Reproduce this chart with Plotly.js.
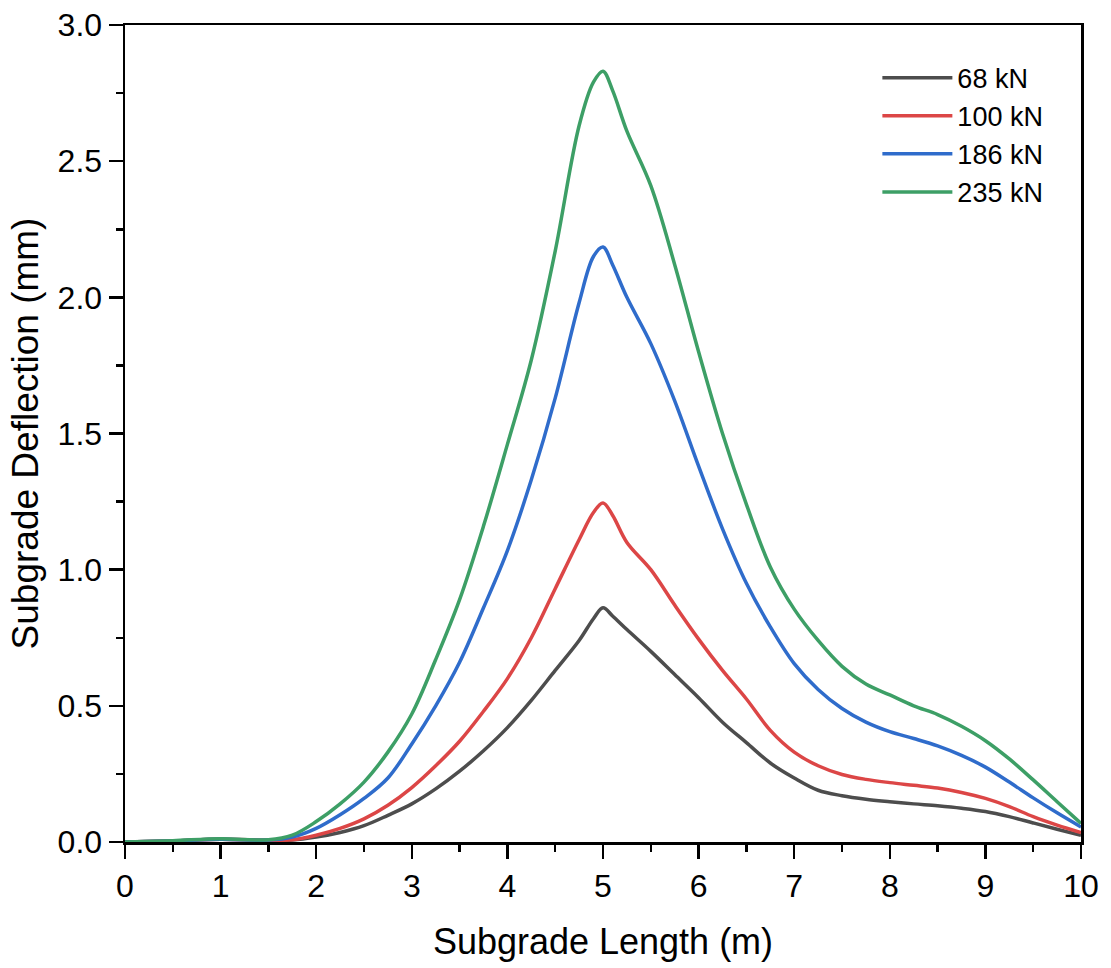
<!DOCTYPE html>
<html>
<head>
<meta charset="utf-8">
<script src="https://cdn.plot.ly/plotly-3.0.1.min.js"></script>
<style>html,body{margin:0;padding:0;background:#fff}#chart{width:1111px;height:968px}</style>
</head>
<body>
<div id="chart"></div>
<script>
// Subgrade length (m)
const lengthM = [0,0.5,1,1.5,1.75,2,2.25,2.5,2.75,3,3.25,3.5,3.75,4,4.25,4.5,4.75,4.9,5,5.1,5.25,5.5,5.75,6,6.25,6.5,6.75,7,7.25,7.5,7.75,8,8.25,8.5,8.75,9,9.25,9.5,9.75,10];

// Subgrade deflection (mm) per load
const load68kN  = [0,0.004,0.01,0.006,0.007,0.018,0.035,0.06,0.098,0.14,0.195,0.26,0.335,0.42,0.52,0.63,0.74,0.82,0.86,0.83,0.78,0.70,0.615,0.53,0.44,0.365,0.29,0.235,0.19,0.17,0.157,0.148,0.14,0.133,0.124,0.112,0.093,0.07,0.047,0.025];
const load100kN = [0,0.004,0.01,0.006,0.008,0.025,0.05,0.085,0.135,0.2,0.28,0.37,0.48,0.6,0.75,0.93,1.11,1.21,1.245,1.2,1.1,1.0,0.87,0.745,0.63,0.525,0.41,0.33,0.28,0.248,0.23,0.218,0.208,0.198,0.182,0.16,0.13,0.093,0.062,0.035];
const load186kN = [0,0.004,0.01,0.007,0.018,0.05,0.1,0.16,0.235,0.36,0.5,0.66,0.86,1.07,1.33,1.63,1.98,2.15,2.185,2.12,2.0,1.83,1.62,1.38,1.15,0.95,0.79,0.655,0.56,0.49,0.44,0.405,0.38,0.353,0.318,0.275,0.22,0.162,0.107,0.055];
const load235kN = [0,0.005,0.012,0.008,0.025,0.075,0.14,0.22,0.33,0.47,0.67,0.89,1.16,1.46,1.77,2.17,2.63,2.79,2.83,2.76,2.61,2.41,2.12,1.8,1.5,1.24,1.01,0.855,0.74,0.645,0.58,0.54,0.5,0.468,0.425,0.372,0.305,0.228,0.148,0.068];

const seriesNames = ['68 kN','100 kN','186 kN','235 kN'];
const seriesData = [load68kN, load100kN, load186kN, load235kN];
const seriesColors = ['#4d4d4d','#dc4646','#2f6ccb','#3d9f66'];

const traces = seriesData.map((y, i) => ({
  x: lengthM, y: y, name: seriesNames[i], type: 'scatter', mode: 'lines',
  line: {color: seriesColors[i], width: 3.5, shape: 'spline', smoothing: 1.0}
}));

const font = 'Liberation Sans, Arial, sans-serif';
const layout = {
  width: 1111, height: 968,
  margin: {l: 125, r: 30, t: 25, b: 126},
  paper_bgcolor: '#fff', plot_bgcolor: '#fff',
  font: {family: font, color: '#000'},
  showlegend: true,
  legend: {x: 0.787, y: 0.965, xanchor: 'left', yanchor: 'top', bgcolor: 'rgba(0,0,0,0)',
           font: {size: 27, family: font, color: '#000'}, itemwidth: 70, tracegroupgap: 0},
  xaxis: {
    range: [0, 10], dtick: 1, tick0: 0, showgrid: false, zeroline: false,
    showline: true, linecolor: '#000', linewidth: 2.5, mirror: true,
    ticks: 'outside', ticklen: 14, tickwidth: 2.5, tickcolor: '#000',
    minor: {dtick: 0.5, ticks: 'outside', ticklen: 7, tickwidth: 2.5, tickcolor: '#000', showgrid: false},
    tickfont: {size: 32, family: font, color: '#000'},
    title: {text: 'Subgrade Length (m)', font: {size: 36, family: font, color: '#000'}, standoff: 26}
  },
  yaxis: {
    range: [0, 3], dtick: 0.5, tick0: 0, tickformat: '.1f', showgrid: false, zeroline: false,
    showline: true, linecolor: '#000', linewidth: 2.5, mirror: true,
    ticks: 'outside', ticklen: 14, tickwidth: 2.5, tickcolor: '#000',
    minor: {dtick: 0.25, ticks: 'outside', ticklen: 7, tickwidth: 2.5, tickcolor: '#000', showgrid: false},
    tickfont: {size: 32, family: font, color: '#000'},
    title: {text: 'Subgrade Deflection (mm)', font: {size: 37, family: font, color: '#000'}, standoff: 8}
  }
};

Plotly.newPlot('chart', traces, layout, {displayModeBar: false, staticPlot: true});
</script>
</body>
</html>
